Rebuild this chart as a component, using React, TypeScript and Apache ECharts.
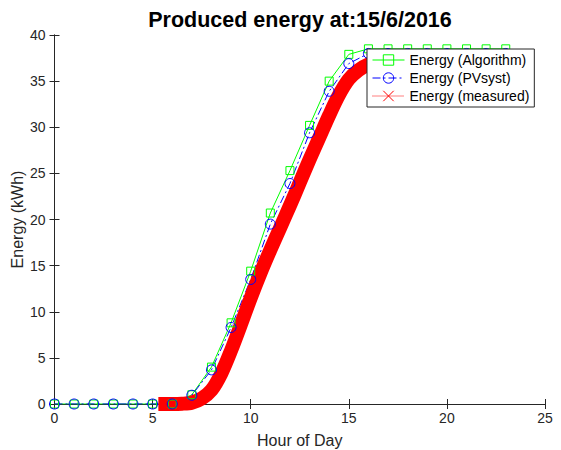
import React, { useEffect, useRef } from 'react';
import * as echarts from 'echarts';

const hours = [0, 1, 2, 3, 4, 5, 6, 7, 8, 9, 10, 11, 12, 13, 14, 15, 16, 17, 18, 19, 20, 21, 22, 23];
const algorithmValues = [0, 0, 0, 0, 0, 0, 0, 1.0, 4.0, 8.8, 14.4, 20.7, 25.3, 30.2, 35.0, 37.9, 38.5, 38.5, 38.5, 38.5, 38.5, 38.5, 38.5, 38.5];
const pvsystValues = [0, 0, 0, 0, 0, 0, 0, 0.95, 3.7, 8.3, 13.5, 19.5, 23.9, 29.4, 33.9, 36.9, 38.0, 38.0, 38.0, 38.0, 38.0, 38.0, 38.0, 38.0];
const measuredHours = [5.65, 6.0, 6.5, 7.0, 7.5, 8.0, 8.5, 9.0, 9.5, 10.0, 10.5, 11.0, 11.5, 12.0, 12.5, 13.0, 13.5, 14.0, 14.5, 15.0, 15.5, 16.0, 16.5, 17.0, 17.5, 18.0, 18.5, 19.0, 19.5, 20.0];
const measuredValues = [0, 0, 0.03, 0.15, 0.6, 1.5, 3.3, 5.8, 8.6, 11.5, 14.2, 16.7, 19.1, 21.5, 24.0, 26.5, 28.9, 31.3, 33.5, 35.2, 36.2, 36.8, 37.1, 37.2, 37.3, 37.3, 37.3, 37.3, 37.3, 37.3];

const titleText = 'Produced energy at:15/6/2016';
const xName = 'Hour of Day';
const yName = 'Energy (kWh)';
const nameAlgorithm = 'Energy (Algorithm)';
const namePVsyst = 'Energy (PVsyst)';
const nameMeasured = 'Energy (measured)';

const FONT = 'Liberation Sans, Arial, Helvetica, sans-serif';
const AX = '#262626';
const X_PATH = 'path://M0,0L10,10M10,0L0,10';

export default function App() {
  const ref = useRef<HTMLDivElement>(null);
  useEffect(() => {
    const chart = echarts.init(ref.current!, null, { renderer: 'svg' });
    const axisCommon = {
      type: 'value' as const,
      axisLine: { show: true, lineStyle: { color: AX, width: 1 } },
      axisTick: { show: true, inside: true, length: 5, lineStyle: { color: AX } },
      splitLine: { show: false },
    };
    chart.setOption({
      animation: false,
      backgroundColor: '#ffffff',
      textStyle: { fontFamily: FONT },
      title: {
        text: titleText,
        left: 300,
        textAlign: 'center',
        top: 9,
        padding: 0,
        textStyle: { fontFamily: FONT, fontSize: 21.5, fontWeight: 'bold', color: '#000' },
      },
      grid: { left: 54.5, right: 16, top: 35, bottom: 46, containLabel: false, outerBoundsMode: 'none' },
      xAxis: [
        {
          ...axisCommon,
          position: 'bottom',
          min: 0, max: 25, interval: 5,
          name: xName, nameLocation: 'middle', nameGap: 28, nameMoveOverlap: false,
          nameTextStyle: { fontFamily: FONT, fontSize: 16, color: AX },
          axisLabel: { show: true, margin: 7, fontFamily: FONT, fontSize: 14, color: AX },
        },
        {
          ...axisCommon,
          position: 'top',
          min: 0, max: 25, interval: 5,
          axisLabel: { show: false },
        },
      ],
      yAxis: [
        {
          ...axisCommon,
          position: 'left',
          min: 0, max: 40, interval: 5,
          name: yName, nameLocation: 'middle', nameGap: 29, nameMoveOverlap: false,
          nameTextStyle: { fontFamily: FONT, fontSize: 16, color: AX },
          axisLabel: { show: true, margin: 9, fontFamily: FONT, fontSize: 14, color: AX },
        },
        {
          ...axisCommon,
          position: 'right',
          min: 0, max: 40, interval: 5,
          axisLabel: { show: false },
        },
      ],
      legend: {
        data: [nameAlgorithm, namePVsyst, nameMeasured],
        orient: 'vertical',
        left: 367,
        top: 49,
        z: 20,
        padding: [4, 5, 4, 5],
        itemGap: 4,
        itemWidth: 32,
        itemHeight: 13,
        backgroundColor: '#ffffff',
        borderColor: AX,
        borderWidth: 1,
        borderRadius: 0,
        itemStyle: { borderWidth: 1 },
        lineStyle: { width: 1 },
        textStyle: { fontFamily: FONT, fontSize: 14, color: '#000' },
        selectedMode: false,
      },
      series: [
        {
          name: nameAlgorithm,
          type: 'line',
          xAxisIndex: 0, yAxisIndex: 0,
          data: hours.map((h, i) => [h, algorithmValues[i]]),
          symbol: 'rect',
          symbolSize: 8,
          showAllSymbol: true,
          lineStyle: { color: '#00ff00', width: 1 },
          itemStyle: { color: 'transparent', borderColor: '#00ff00', borderWidth: 1 },
          z: 2,
        },
        {
          name: namePVsyst,
          type: 'line',
          xAxisIndex: 0, yAxisIndex: 0,
          data: hours.map((h, i) => [h, pvsystValues[i]]),
          symbol: 'circle',
          symbolSize: 10,
          showAllSymbol: true,
          lineStyle: { color: '#0000ff', width: 1, type: [8, 3, 2, 3] },
          itemStyle: { color: 'transparent', borderColor: '#0000ff', borderWidth: 1 },
          z: 2,
        },
        {
          name: 'measured-band',
          type: 'line',
          xAxisIndex: 0, yAxisIndex: 0,
          data: measuredHours.map((h, i) => [h, measuredValues[i]]),
          symbol: 'none',
          smooth: 0.3,
          lineStyle: { color: '#ff0000', width: 14, cap: 'square', join: 'round' },
          z: 2,
        },
        {
          name: nameMeasured,
          type: 'line',
          xAxisIndex: 0, yAxisIndex: 0,
          data: [],
          symbol: X_PATH,
          symbolSize: 9,
          lineStyle: { color: '#ff0000', width: 1, type: 'dotted' },
          itemStyle: { color: 'transparent', borderColor: '#ff0000', borderWidth: 1.2 },
          z: 2,
        },
      ],
    });
    return () => chart.dispose();
  }, []);
  return (
    <div
      ref={ref}
      style={{ position: 'fixed', left: 0, top: 0, width: 561, height: 450, background: '#ffffff' }}
    />
  );
}
